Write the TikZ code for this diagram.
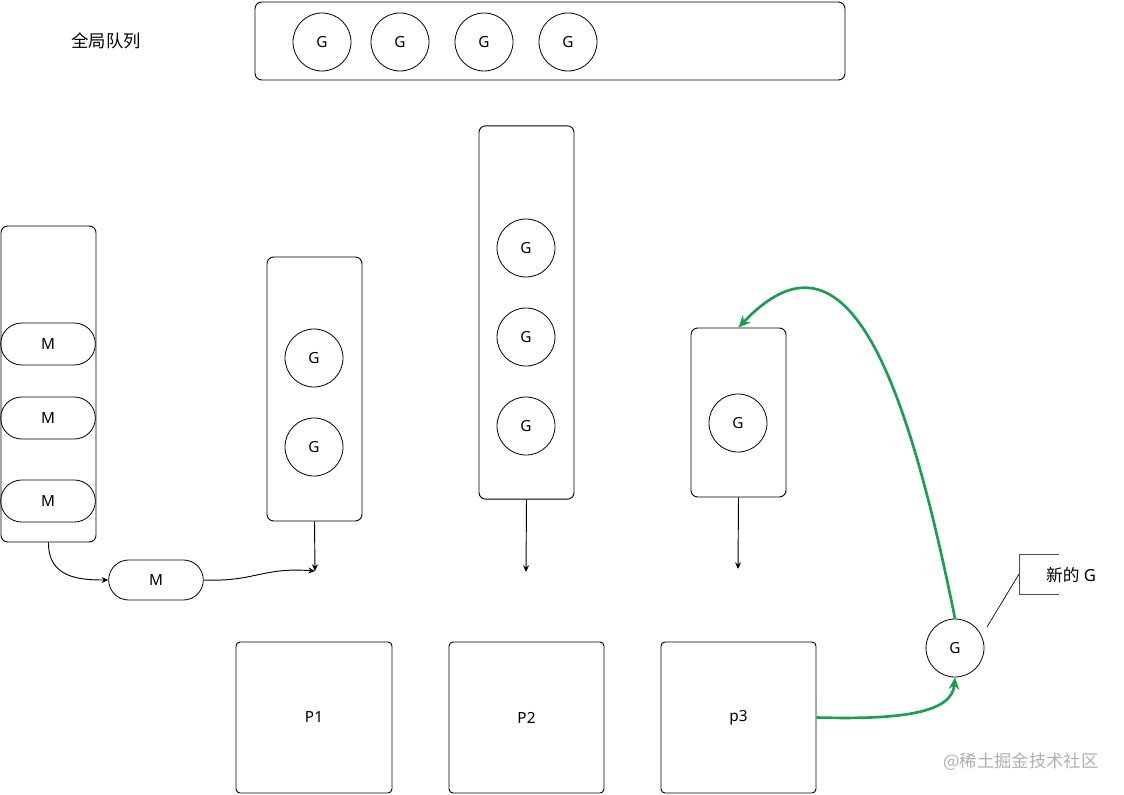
\documentclass[tikz,border=0pt]{standalone}
\usepackage{fontspec}
\setmainfont{Noto Sans}
\newfontfamily\cjk{Noto Sans CJK SC}
\usetikzlibrary{arrows.meta,shapes.misc}
\definecolor{grn}{RGB}{26,158,82}
\definecolor{wm}{RGB}{175,175,175}
\tikzset{
  box/.style={draw, rounded corners=5pt, line width=0.7pt},
  gcirc/.style={draw, circle, minimum size=43.5pt, inner sep=0pt, line width=0.6pt, font=\fontsize{11.5}{13}\selectfont},
  mcap/.style={draw, rounded rectangle, minimum width=71pt, minimum height=31.5pt, inner sep=0pt, line width=0.6pt, font=\fontsize{11.5}{13}\selectfont},
  pbox/.style={draw, rounded corners=3pt, line width=0.7pt, font=\fontsize{11.5}{13}\selectfont},
  arr/.style={-{Stealth[length=5pt,width=4.5pt]}, line width=0.7pt},
  garr/.style={-{Stealth[length=9pt,width=8pt]}, line width=2pt, grn},
}
\begin{document}
\begin{tikzpicture}[x=0.75pt,y=-0.75pt]
\useasboundingbox (0,0) rectangle (1124,795);
% global queue
\node[font=\cjk\fontsize{13}{15}\selectfont] (gq) at (106,41) {全局队列};
\draw[box] (255,2) rectangle (845,80);
\node[gcirc] (g1) at (322,42) {G};
\node[gcirc] (g2) at (400,42) {G};
\node[gcirc] (g3) at (484,42) {G};
\node[gcirc] (g4) at (568,42) {G};
% M container
\node[box, minimum width=71.25pt, minimum height=237pt, inner sep=0pt] (mc) at (48.5,384) {};
\node[mcap] (m1) at (48,344) {M};
\node[mcap] (m2) at (48,418) {M};
\node[mcap] (m3) at (48,501) {M};
\node[mcap, minimum height=30pt] (m4) at (156,580) {M};
% P1 queue
\node[box, minimum width=71.25pt, minimum height=198pt, inner sep=0pt] (q1) at (314.5,389) {};
\node[gcirc] (q1a) at (314,358) {G};
\node[gcirc] (q1b) at (314,447) {G};
% P2 queue
\node[box, minimum width=71.25pt, minimum height=280pt, inner sep=0pt] (q2) at (526.5,312.5) {};
\node[gcirc] (q2a) at (526,248) {G};
\node[gcirc] (q2b) at (526,337) {G};
\node[gcirc] (q2c) at (526,426) {G};
% P3 queue
\node[box, minimum width=71.25pt, minimum height=126.75pt, inner sep=0pt] (q3) at (738.5,412.5) {};
\node[gcirc] (q3a) at (738,423) {G};
% P boxes
\node[pbox, minimum width=117pt, minimum height=113.25pt, inner sep=0pt] (p1) at (314,717.5) {P1};
\node[pbox, minimum width=116.25pt, minimum height=113.25pt, inner sep=0pt] (p2) at (526.5,717.5) {P2};
\node[pbox, minimum width=116.25pt, minimum height=113.25pt, inner sep=0pt] (p3) at (738.5,717.5) {p3};
% arrow endpoints
\coordinate (e1) at (315,571);
\coordinate (e2) at (526,572);
\coordinate (e3) at (738,569);
\draw[arr] (q1.south) -- (e1);
\draw[arr] (q2.south) -- (e2);
\draw[arr] (q3.south) -- (e3);
\draw[arr] (mc.south) .. controls (48,578) and (80,580) .. (m4.west);
\draw[arr] (m4.east) .. controls (255,582) and (262,567) .. (e1);
% new G
\node[gcirc] (ng) at (955,648) {G};
\draw[garr] (p3.east) .. controls (905,720) and (952,712) .. (ng.south);
\draw[garr] (ng.north) .. controls (905,370) and (845,215) .. (q3.north);
% callout
\coordinate (c1) at (987,627);
\coordinate (c2) at (1019,574);
\draw[line width=0.5pt] (c1) -- (c2);
\draw[line width=0.7pt, black!70] (1059,554) -- (1019,554) -- (1019,594) -- (1059,594);
\node[font=\fontsize{12.5}{14}\selectfont, anchor=center] (nl) at (1071,575) {{\cjk 新的} G};
% watermark
\node[font=\cjk\fontsize{13}{15}\selectfont, text=wm] (wmk) at (1021,762) {@稀土掘金技术社区};
\end{tikzpicture}
\end{document}
